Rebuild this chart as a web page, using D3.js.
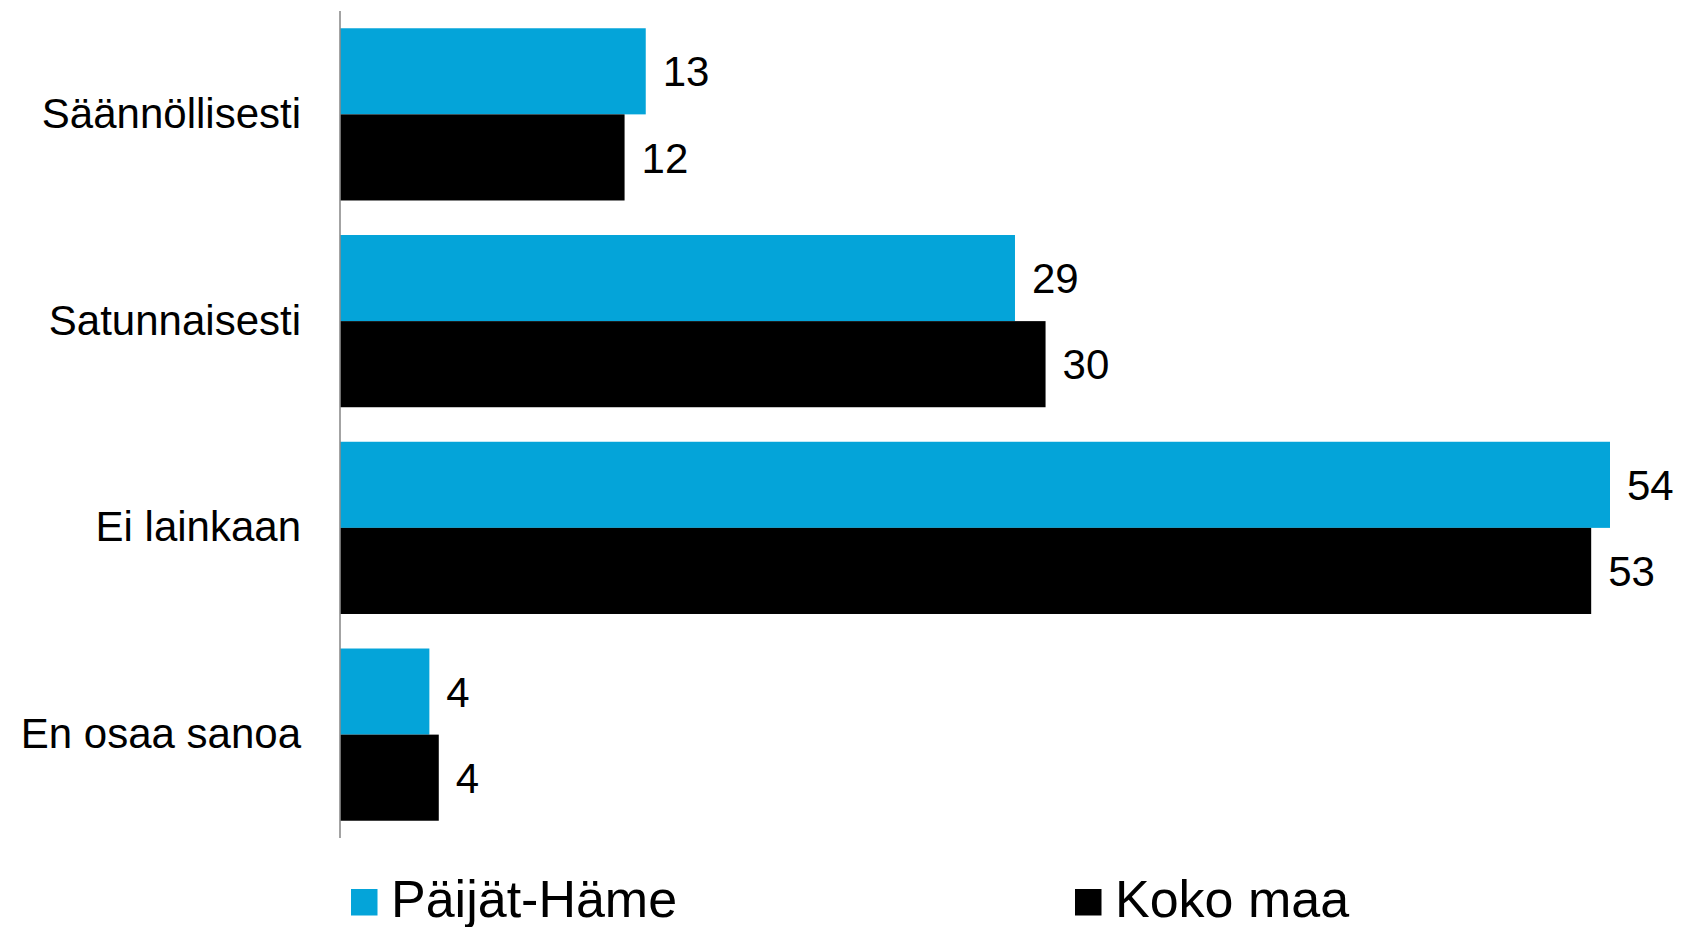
<!DOCTYPE html>
<html>
<head>
<meta charset="utf-8">
<script src="https://cdn.jsdelivr.net/npm/d3@7"></script>
<style>
  body { margin: 0; background: #fff; }
  text { font-family: "Liberation Sans", Arial, sans-serif; fill: #000; }
</style>
</head>
<body>
<div id="chart"></div>
<script>
// data
const categories = ["Säännöllisesti", "Satunnaisesti", "Ei lainkaan", "En osaa sanoa"];
const seriesNames = ["Päijät-Häme", "Koko maa"];
const paijatHame = [13.0, 28.7, 54.0, 3.8];
const kokoMaa = [12.1, 30.0, 53.2, 4.2];
const seriesColors = ["#04a4d9", "#000000"];

const width = 1681, height = 927;
const margin = { top: 11, left: 340, right: 71, bottom: 89 };

const svg = d3.select("#chart")
  .append("svg")
  .attr("width", width)
  .attr("height", height);

const x = d3.scaleLinear()
  .domain([0, 54])
  .range([margin.left, width - margin.right]);

const y = d3.scaleBand()
  .domain(categories)
  .range([margin.top, height - margin.bottom])
  .paddingInner(0.167)
  .paddingOuter(0.0835);

const ySub = d3.scaleBand()
  .domain(seriesNames)
  .range([0, y.bandwidth()]);

const rows = categories.map(function (c, i) {
  return { cat: c, values: [
    { name: seriesNames[0], v: paijatHame[i] },
    { name: seriesNames[1], v: kokoMaa[i] }
  ] };
});

const color = d3.scaleOrdinal().domain(seriesNames).range(seriesColors);

const groups = svg.selectAll("g.cat")
  .data(rows)
  .enter()
  .append("g")
  .attr("class", "cat")
  .attr("transform", function (d) { return "translate(0," + y(d.cat) + ")"; });

groups.selectAll("rect")
  .data(function (d) { return d.values; })
  .enter()
  .append("rect")
  .attr("x", x(0))
  .attr("y", function (d) { return ySub(d.name); })
  .attr("width", function (d) { return x(d.v) - x(0); })
  .attr("height", ySub.bandwidth())
  .attr("fill", function (d) { return color(d.name); });

//value labels
groups.selectAll("text.val")
  .data(function (d) { return d.values; })
  .enter()
  .append("text")
  .attr("class", "val")
  .attr("x", function (d) { return x(d.v) + 17; })
  .attr("y", function (d) { return ySub(d.name) + ySub.bandwidth() / 2; })
  .attr("dy", "0.36em")
  .style("font-size", "42px")
  .text(function (d) { return d3.format(".0f")(d.v); });

//category axis
const yAxis = svg.append("g")
  .attr("transform", "translate(" + x(0) + ",0)")
  .call(d3.axisLeft(y).tickSize(0).tickPadding(39));

yAxis.select(".domain")
  .attr("d", "M0," + margin.top + "V" + (height - margin.bottom))
  .attr("stroke", "#8c8c8c")
  .attr("stroke-width", 1.6);

yAxis.selectAll(".tick text")
  .style("font-size", "42px")
  .attr("fill", "#000");

//legend
const legendX = [351, 1075];
const legend = svg.selectAll("g.legend")
  .data(seriesNames)
  .enter()
  .append("g")
  .attr("class", "legend")
  .attr("transform", function (d, i) { return "translate(" + legendX[i] + ",889)"; });

legend.append("rect")
  .attr("width", 26.5)
  .attr("height", 26.5)
  .attr("fill", function (d) { return color(d); });

legend.append("text")
  .attr("x", 40)
  .attr("y", 28)
  .style("font-size", "52px")
  .text(function (d) { return d; });
</script>
</body>
</html>
